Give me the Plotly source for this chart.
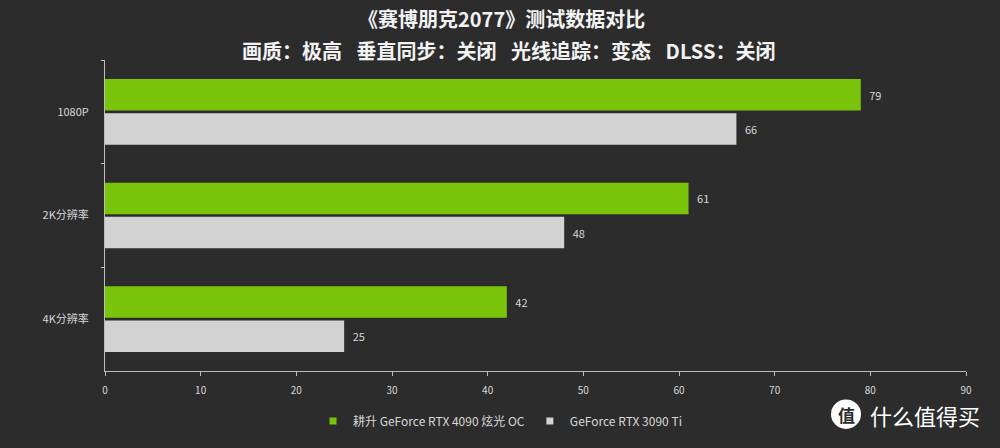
import plotly.graph_objects as go

categories = ["1080P", "2K分辨率", "4K分辨率"]
series_names = ["耕升 GeForce RTX 4090 炫光 OC", "GeForce RTX 3090 Ti"]
rtx4090_fps = [79, 61, 42]
rtx3090ti_fps = [66, 48, 25]
x_ticks = [0, 10, 20, 30, 40, 50, 60, 70, 80, 90]

GREEN = "#7ac50c"
GREY = "#d2d2d2"
TEXT = "#d8d8d8"
BG = "#2c2c2c"
FONT = "Noto Sans CJK SC"

# plot box in page pixels
L, R, T, B = 105, 966, 60, 377


def px(x):
    return (x - L) / (R - L)


def py(y):
    return (B - y) / (B - T)


fig = go.Figure()
for name, values, color in [
    (series_names[0], rtx4090_fps, GREEN),
    (series_names[1], rtx3090ti_fps, GREY),
]:
    fig.add_trace(
        go.Bar(
            y=categories,
            x=values,
            name=name,
            orientation="h",
            marker={"color": color, "line": {"width": 0}},
            text=values,
            texttemplate="\u2002%{x}",
            textposition="outside",
            textfont={"color": TEXT, "size": 11},
            cliponaxis=False,
            showlegend=False,
        )
    )
    # small square legend swatch, like the original
    fig.add_trace(
        go.Scatter(
            x=[None],
            y=[None],
            mode="markers",
            name=name,
            marker={"symbol": "square", "size": 7, "color": color},
            showlegend=True,
        )
    )

fig.add_annotation(
    text="<b>《赛博朋克2077》测试数据对比</b>",
    xref="paper", yref="paper", x=px(501), y=py(18),
    xanchor="center", yanchor="middle", showarrow=False,
    font={"color": "#f2f2f2", "size": 20, "family": FONT},
)
fig.add_annotation(
    text="<b>画质：极高\u2002 垂直同步：关闭\u2002 光线追踪：变态\u2002 DLSS：关闭</b>",
    xref="paper", yref="paper", x=px(508), y=py(50),
    xanchor="center", yanchor="middle", showarrow=False,
    font={"color": "#f2f2f2", "size": 20, "family": FONT},
)

# watermark
fig.add_shape(
    type="circle", xref="paper", yref="paper",
    x0=px(831), x1=px(861), y0=py(436), y1=py(406),
    fillcolor="#ffffff", line={"width": 0},
)
fig.add_annotation(
    text="<b>值</b>",
    xref="paper", yref="paper", x=px(846), y=py(421),
    xanchor="center", yanchor="middle", showarrow=False,
    font={"color": BG, "size": 17, "family": FONT},
)
fig.add_annotation(
    text="什么值得买",
    xref="paper", yref="paper", x=px(868), y=py(422),
    xanchor="left", yanchor="middle", showarrow=False,
    font={"color": "#ffffff", "size": 22, "family": FONT},
)

fig.update_layout(
    width=1000,
    height=448,
    barmode="group",
    bargap=0.34,
    bargroupgap=0.08,
    paper_bgcolor=BG,
    plot_bgcolor=BG,
    font={"family": FONT, "color": TEXT, "size": 10},
    margin={"l": L, "r": 1000 - R, "t": T, "b": 448 - B},
    showlegend=True,
    legend={
        "orientation": "h",
        "x": px(500),
        "xanchor": "center",
        "y": py(428),
        "yanchor": "middle",
        "font": {"size": 12, "color": TEXT},
        "bgcolor": "rgba(0,0,0,0)",
        "itemwidth": 30,
        "tracegroupgap": 0,
    },
    xaxis={
        "range": [0, 90],
        "tickvals": x_ticks,
        "showgrid": False,
        "zeroline": False,
        "showline": True,
        "linecolor": "#bdbdbd",
        "linewidth": 1,
        "ticks": "outside",
        "ticklen": 4,
        "tickcolor": "#bdbdbd",
        "ticklabelstandoff": 6,
        "tickfont": {"size": 10, "color": TEXT},
        "fixedrange": True,
    },
    yaxis={
        "autorange": "reversed",
        "showgrid": False,
        "zeroline": False,
        "showline": True,
        "linecolor": "#bdbdbd",
        "linewidth": 1,
        "ticks": "outside",
        "tickson": "boundaries",
        "ticklen": 3,
        "tickcolor": "#bdbdbd",
        "ticklabelstandoff": 13,
        "tickfont": {"size": 11, "color": TEXT},
        "fixedrange": True,
    },
)

fig.write_html(
    "out.html",
    config={"displayModeBar": False},
    post_script="document.body.style.margin='0';",
)
